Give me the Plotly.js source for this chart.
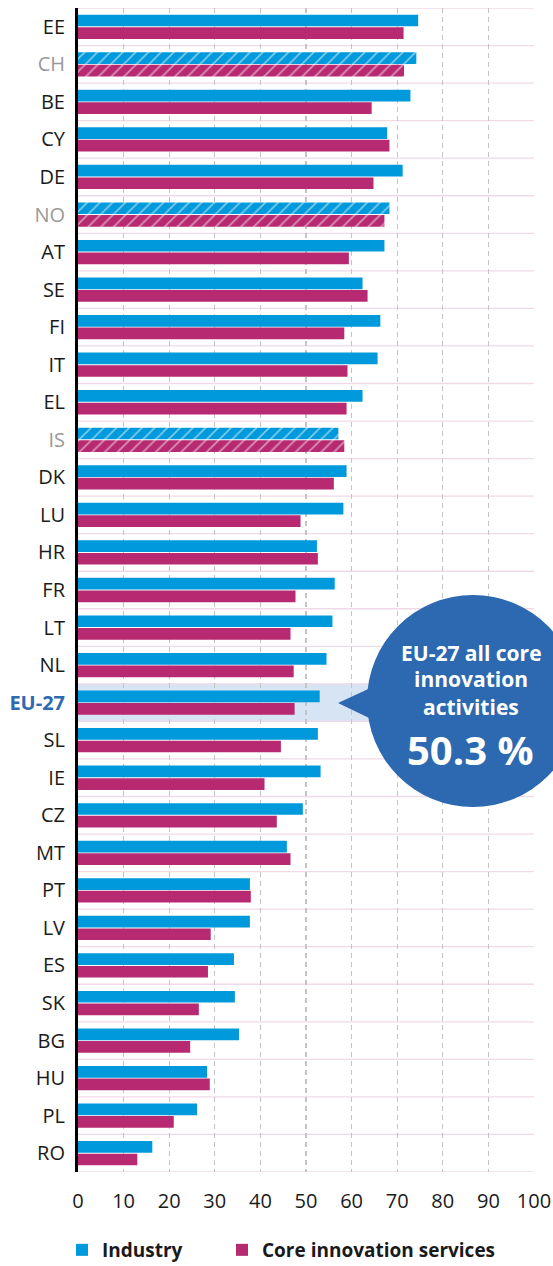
<!DOCTYPE html>
<html>
<head>
<meta charset="utf-8">
<script src="https://cdn.plot.ly/plotly-3.0.1.min.js"></script>
<style>html,body{margin:0;padding:0;background:#fff;}#chart{width:553px;height:1266px;}</style>
</head>
<body>
<div id="chart"></div>
<script>
// ---- data ----
const categories = ['EE','CH','BE','CY','DE','NO','AT','SE','FI','IT','EL','IS','DK','LU','HR','FR','LT','NL','EU-27','SL','IE','CZ','MT','PT','LV','ES','SK','BG','HU','PL','RO'];
const industry = [74.6,74.2,72.9,67.8,71.2,68.3,67.2,62.4,66.3,65.7,62.4,57.1,58.9,58.2,52.4,56.3,55.8,54.5,53.0,52.6,53.2,49.3,45.8,37.7,37.7,34.2,34.4,35.3,28.3,26.1,16.3];
const services = [71.4,71.5,64.4,68.3,64.8,67.2,59.4,63.5,58.4,59.1,58.9,58.4,56.1,48.8,52.6,47.7,46.6,47.3,47.5,44.5,40.9,43.6,46.6,37.9,29.1,28.5,26.5,24.6,28.9,21.0,13.0];
const nonEU = ['CH','NO','IS'];
const euLabel = 'EU-27';
const bubbleLines = ['EU-27 all core','innovation','activities'];
const bubbleValue = '50.3 %';
const xTicks = [0,10,20,30,40,50,60,70,80,90,100];

// ---- styling ----
const BLUE = '#0099dc';
const MAGENTA = '#b72a72';
const BUBBLE = '#2c69b0';
const FONT = 'Open Sans, Noto Sans, sans-serif';

const patterns = categories.map(c => nonEU.includes(c) ? '/' : '');
const tickText = categories.map(c => {
  if (nonEU.includes(c)) return '<span style="color:#999999">' + c + '</span>';
  if (c === euLabel) return '<span style="color:#2c6ab2"><b>' + c + '</b></span>';
  return c;
});

function barTrace(name, vals, color, legendId) {
  return {
    type: 'bar', orientation: 'h', name: name, legend: legendId,
    y: categories, x: vals,
    marker: {color: color, line: {width: 0},
      pattern: {shape: patterns, fgcolor: '#ffffff', bgcolor: color, size: 9, solidity: 0.18, fillmode: 'overlay'}},
    hoverinfo: 'x+y'
  };
}

const traces = [
  barTrace('Industry', industry, BLUE, 'legend'),
  barTrace('Core innovation services', services, MAGENTA, 'legend2')
];

// helper: pixel -> paper conversion (layout positions only)
const L = 78, R = 19, T = 8, B = 94, W = 553, H = 1266;
const pw = W - L - R, ph = H - T - B;
const px = v => (v - L) / pw;
const py = v => (H - B - v) / ph;

const shapes = [];
const euIdx = categories.indexOf(euLabel);
shapes.push({type:'rect', xref:'x', yref:'y', x0:0, x1:100, y0:euIdx-0.5, y1:euIdx+0.5,
  fillcolor:'#d6e4f4', line:{width:0}, layer:'below'});
for (let i = 0; i <= categories.length; i++) {
  shapes.push({type:'line', xref:'x', yref:'y', x0:0, x1:100, y0:i-0.5, y1:i-0.5,
    line:{color:'#f0dae7', width:1.3}, layer:'below'});
}
// speech bubble
shapes.push({type:'path', xref:'paper', yref:'paper',
  path: `M ${px(338)} ${py(703)} L ${px(392)} ${py(678)} L ${px(392)} ${py(729)} Z`,
  fillcolor: BUBBLE, line:{width:0}, layer:'above'});
shapes.push({type:'circle', xref:'paper', yref:'paper',
  x0: px(367), x1: px(579), y0: py(807), y1: py(595),
  fillcolor: BUBBLE, line:{width:0}, layer:'above'});

const annotations = [];
const lineY = [653, 679, 707];
bubbleLines.forEach((t, i) => {
  annotations.push({xref:'paper', yref:'paper', x: px(471), y: py(lineY[i]), text: t,
    showarrow:false, xanchor:'center', yanchor:'middle',
    font:{family:FONT, size:21, color:'#ffffff', weight:700}});
});
annotations.push({xref:'paper', yref:'paper', x: px(470), y: py(749), text: bubbleValue,
  showarrow:false, xanchor:'center', yanchor:'middle',
  font:{family:FONT, size:40, color:'#ffffff', weight:700}});

const legendCommon = {orientation: 'h', xanchor: 'left', yanchor: 'middle',
  yref: 'container', y: (H - 1250) / H,
  font: {size: 19, weight: 700, color: '#1a1a1a'}, itemwidth: 30,
  bgcolor: 'rgba(0,0,0,0)', borderwidth: 0};

const layout = {
  width: W, height: H,
  margin: {l: L, r: R, t: T, b: B, pad: 0},
  paper_bgcolor: '#ffffff', plot_bgcolor: '#ffffff',
  barmode: 'group', bargap: 0.33, bargroupgap: 0.07,
  font: {family: FONT, color: '#1a1a1a'},
  xaxis: {
    range: [0, 100], tickvals: xTicks, ticktext: xTicks.map(String),
    showgrid: true, gridcolor: '#c4c4c4', griddash: '5px,4px', gridwidth: 1.2,
    zeroline: false, showline: false, ticks: '',
    tickfont: {size: 20, color: '#1a1a1a'}, ticklabelstandoff: 15,
    fixedrange: true
  },
  yaxis: {
    type: 'category', categoryorder: 'array', categoryarray: categories,
    range: [categories.length - 0.5, -0.5],
    tickvals: categories, ticktext: tickText,
    showgrid: false, zeroline: false,
    showline: true, linecolor: '#000000', linewidth: 3,
    ticks: '', ticklabelstandoff: 6,
    tickfont: {size: 20, color: '#1a1a1a'},
    fixedrange: true
  },
  showlegend: true,
  legend: Object.assign({}, legendCommon, {x: px(62)}),
  legend2: Object.assign({}, legendCommon, {x: px(222)}),
  shapes: shapes,
  annotations: annotations
};

Plotly.newPlot('chart', traces, layout, {displayModeBar: false, staticPlot: true});
</script>
</body>
</html>
